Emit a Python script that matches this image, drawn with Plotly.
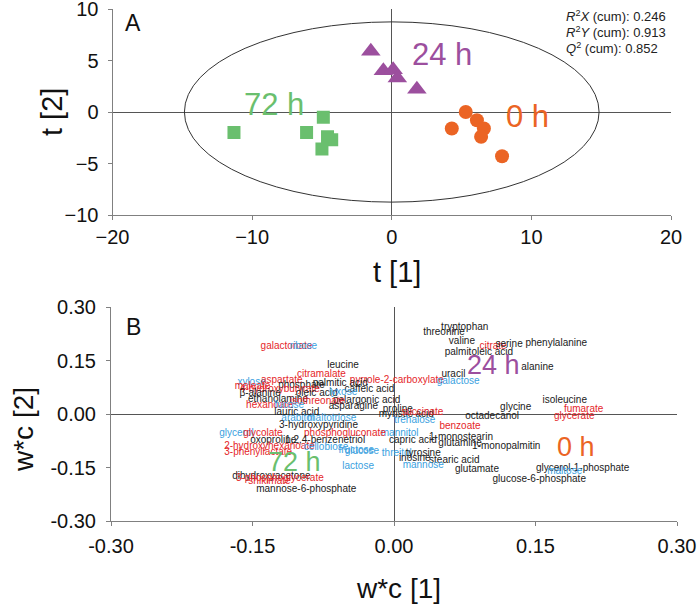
import plotly.graph_objects as go

# ---------------- Panel A: scores ----------------
h0_t1 = [5.3, 4.3, 6.1, 6.6, 6.4, 7.9]
h0_t2 = [0.0, -1.6, -0.8, -1.6, -2.4, -4.3]
h24_t1 = [-1.5, -0.6, 0.1, 0.4, 1.8]
h24_t2 = [5.9, 4.0, 4.1, 3.3, 2.2]
h72_t1 = [-11.3, -6.1, -4.9, -4.6, -4.3, -5.0]
h72_t2 = [-2.0, -2.0, -0.5, -2.4, -2.7, -3.6]

ellipse_rx = 14.85
ellipse_ry = 8.75

stats_lines = ["<i>R</i><sup>2</sup><i>X</i> (cum): 0.246",
               "<i>R</i><sup>2</sup><i>Y</i> (cum): 0.913",
               "<i>Q</i><sup>2</sup> (cum): 0.852"]

group_names = ["0 h", "24 h", "72 h"]
groupA_x = [9.7, 3.6, -8.4]
groupA_y = [-0.4, 5.6, 0.75]
groupB_x = [0.193, 0.105, -0.105]
groupB_y = [-0.092, 0.137, -0.134]

ticksA_x = [-20, -10, 0, 10, 20]
ticksA_y = [-10, -5, 0, 5, 10]
ticksB = [-0.30, -0.15, 0.00, 0.15, 0.30]
ticksB_text = ["-0.30", "-0.15", "0.00", "0.15", "0.30"]

# ---------------- Panel B: loadings ----------------
met_names = [
    "tryptophan", "threonine", "valine", "citrate", "serine", "phenylalanine",
    "palmitoleic acid", "alanine", "uracil", "pyrrole-2-carboxylate", "galactose",
    "isoleucine", "glycine", "fumarate", "glycerate", "octadecanol", "proline",
    "myristic acid", "succinate", "trehalose", "benzoate", "mannitol", "capric acid",
    "1-monostearin", "glutamine", "1-monopalmitin", "threitol", "tyrosine", "inosine",
    "stearic acid", "mannose", "glutamate", "glycerol-1-phosphate", "maltose",
    "glucose-6-phosphate", "galactonate", "ribose", "leucine", "citramalate",
    "xylose", "aspartate", "palmitic acid", "phosphate", "caffeic acid", "maleate",
    "4-hydroxybutyrate", "oleic acid", "lyxose", "β-alanine", "ethanolamine",
    "pelargonic acid", "isothreonate", "asparagine", "hexanoate", "fucose",
    "lauric acid", "arabitol", "maltotriose", "3-hydroxypyridine", "glycerol",
    "glycolate", "phosphogluconate", "oxoproline", "1,2,4-benzenetriol",
    "2-hydroxyhexanoate", "cellobiose", "fructose", "glucose", "3-phenyllactate",
    "lactose", "dihydroxyacetone", "3-phosphoglycerate", "shikimate",
    "mannose-6-phosphate",
]
wc1 = [
    0.075, 0.053, 0.072, 0.105, 0.122, 0.172,
    0.090, 0.152, 0.063, 0.003, 0.068,
    0.181, 0.129, 0.201, 0.191, 0.104, 0.004,
    0.013, 0.030, 0.022, 0.070, 0.006, 0.020,
    0.071, 0.070, 0.119, 0.003, 0.031, 0.022,
    0.064, 0.031, 0.088, 0.200, 0.181,
    0.154, -0.114, -0.096, -0.054, -0.077,
    -0.151, -0.119, -0.057, -0.098, -0.026, -0.150,
    -0.121, -0.082, -0.054, -0.142, -0.123,
    -0.029, -0.081, -0.043, -0.132, -0.111,
    -0.103, -0.102, -0.066, -0.080, -0.167,
    -0.139, -0.052, -0.128, -0.073,
    -0.132, -0.072, -0.040, -0.034, -0.144,
    -0.038, -0.130, -0.121, -0.132,
    -0.093,
]
wc2 = [
    0.243, 0.229, 0.202, 0.189, 0.194, 0.198,
    0.173, 0.130, 0.112, 0.095, 0.092,
    0.039, 0.019, 0.013, -0.008, -0.008, 0.013,
    0.000, 0.004, -0.017, -0.036, -0.054, -0.073,
    -0.066, -0.084, -0.092, -0.112, -0.112, -0.126,
    -0.129, -0.145, -0.156, -0.153, -0.162,
    -0.185, 0.189, 0.189, 0.137, 0.111,
    0.088, 0.093, 0.086, 0.081, 0.069, 0.076,
    0.068, 0.058, 0.060, 0.058, 0.041,
    0.039, 0.034, 0.020, 0.025, 0.025,
    0.005, -0.012, -0.014, -0.031, -0.056,
    -0.054, -0.054, -0.075, -0.073,
    -0.092, -0.094, -0.102, -0.104, -0.108,
    -0.147, -0.176, -0.182, -0.188,
    -0.213,
]
met_class = [
    "other", "other", "other", "acid", "other", "other",
    "other", "other", "other", "acid", "sugar",
    "other", "other", "acid", "acid", "other", "other",
    "other", "acid", "sugar", "acid", "sugar", "other",
    "other", "other", "other", "sugar", "other", "other",
    "other", "sugar", "other", "other", "sugar",
    "other", "acid", "sugar", "other", "acid",
    "sugar", "acid", "other", "other", "other", "acid",
    "acid", "other", "sugar", "other", "other",
    "other", "acid", "other", "acid", "sugar",
    "other", "sugar", "sugar", "other", "sugar",
    "acid", "acid", "other", "other",
    "acid", "sugar", "sugar", "sugar", "acid",
    "sugar", "other", "acid", "acid",
    "other",
]

class_colors = {"other": "#1a1a1a", "acid": "#e5262a", "sugar": "#3a9fe0"}
group_colors = {"0 h": "#eb6424", "24 h": "#9c4f9e", "72 h": "#6abf6e"}
FONT = "Arial, Liberation Sans, sans-serif"

W, H = 700, 604
def px2x(p):
    return p / W
def py2y(p):
    return 1 - p / H

fig = go.Figure()

# Panel A markers
fig.add_trace(go.Scatter(x=h72_t1, y=h72_t2, mode="markers", xaxis="x", yaxis="y",
                         marker=dict(symbol="square", size=13, color=group_colors["72 h"]),
                         showlegend=False, hoverinfo="skip"))
fig.add_trace(go.Scatter(x=h24_t1, y=h24_t2, mode="markers", xaxis="x", yaxis="y",
                         marker=dict(symbol="triangle-up", size=17, color=group_colors["24 h"]),
                         showlegend=False, hoverinfo="skip"))
fig.add_trace(go.Scatter(x=h0_t1, y=h0_t2, mode="markers", xaxis="x", yaxis="y",
                         marker=dict(symbol="circle", size=14, color=group_colors["0 h"]),
                         showlegend=False, hoverinfo="skip"))

# Panel B labels
fig.add_trace(go.Scatter(x=wc1, y=wc2, mode="text", xaxis="x2", yaxis="y2",
                         text=met_names, textposition="middle center",
                         textfont=dict(family=FONT, size=10,
                                       color=[class_colors[c] for c in met_class]),
                         showlegend=False, hoverinfo="skip", cliponaxis=False))

def ann(**kw):
    kw.setdefault("showarrow", False)
    kw.setdefault("xanchor", "center")
    kw.setdefault("yanchor", "middle")
    fig.add_annotation(**kw)

# group labels
for g, gx, gy in zip(group_names, groupA_x, groupA_y):
    ann(x=gx, y=gy, xref="x", yref="y", text=g,
        font=dict(family=FONT, size=31, color=group_colors[g]))
for g, gx, gy in zip(group_names, groupB_x, groupB_y):
    ann(x=gx, y=gy, xref="x2", yref="y2", text=g,
        font=dict(family=FONT, size=27, color=group_colors[g]))

# ellipse
fig.add_shape(type="circle", xref="x", yref="y",
              x0=-ellipse_rx, x1=ellipse_rx, y0=-ellipse_ry, y1=ellipse_ry,
              line=dict(color="#333333", width=1))

# stats text
for i, s in enumerate(stats_lines):
    ann(x=px2x(564), y=py2y(16 + 16 * i), xref="paper", yref="paper",
        text=s, xanchor="left", font=dict(family=FONT, size=13, color="#222222"))

# panel letters
ann(x=px2x(133), y=py2y(23), xref="paper", yref="paper", text="A",
    font=dict(family=FONT, size=23, color="#111111"))
ann(x=px2x(133), y=py2y(327), xref="paper", yref="paper", text="B",
    font=dict(family=FONT, size=23, color="#111111"))

# axis titles
ann(x=px2x(397), y=py2y(272), xref="paper", yref="paper", text="t [1]",
    font=dict(family=FONT, size=29, color="#111111"))
ann(x=px2x(52), y=py2y(112), xref="paper", yref="paper", text="t [2]",
    textangle=-90, font=dict(family=FONT, size=29, color="#111111"))
ann(x=px2x(398), y=py2y(588), xref="paper", yref="paper", text="w*c [1]",
    font=dict(family=FONT, size=28, color="#111111"))
ann(x=px2x(23), y=py2y(430), xref="paper", yref="paper", text="w*c [2]",
    textangle=-90, font=dict(family=FONT, size=28, color="#111111"))

axis_common = dict(showgrid=False, showline=True, linecolor="#808080", linewidth=1,
                   ticks="outside", ticklen=4, tickcolor="#808080", automargin=False,
                   ticklabeloverflow="allow",
                   zeroline=True, zerolinecolor="#555555", zerolinewidth=1,
                   tickfont=dict(family=FONT, size=20, color="#111111"))

fig.update_layout(
    width=W, height=H, autosize=False,
    margin=dict(l=0, r=0, t=0, b=0),
    paper_bgcolor="white", plot_bgcolor="white",
    xaxis=dict(domain=[px2x(112.5), px2x(671)], range=[-20, 20], tickvals=ticksA_x,
               anchor="y", ticklabelstandoff=0, **axis_common),
    yaxis=dict(domain=[py2y(215), py2y(9)], range=[-10, 10], tickvals=ticksA_y,
               anchor="x", ticklabelstandoff=5, **axis_common),
    xaxis2=dict(domain=[px2x(111), px2x(677)], range=[-0.30, 0.30], tickvals=ticksB,
                ticktext=ticksB_text, anchor="y2", ticklabelstandoff=3, **axis_common),
    yaxis2=dict(domain=[py2y(521), py2y(307)], range=[-0.30, 0.30], tickvals=ticksB,
                ticktext=ticksB_text, anchor="x2", ticklabelstandoff=6, **axis_common),
)

fig.write_html("out.html", config={"displayModeBar": False},
               post_script="document.body.style.margin='0px';document.body.style.padding='0px';")
